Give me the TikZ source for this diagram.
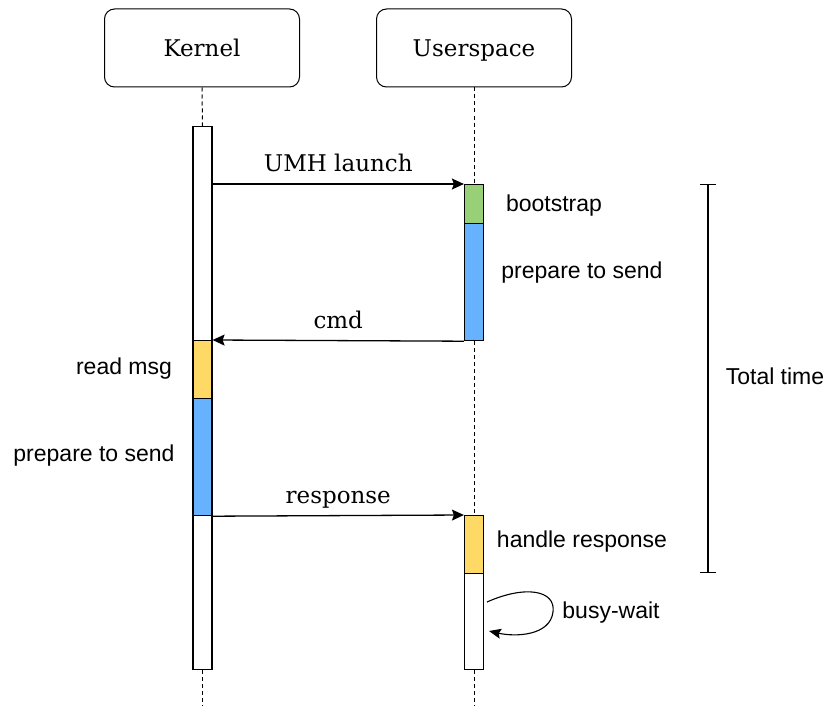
\documentclass[tikz,border=0pt]{standalone}
\usepackage{fontspec}
\setmainfont{DejaVu Serif}
\setsansfont{Liberation Sans}
\usetikzlibrary{arrows.meta}
\definecolor{cgreen}{HTML}{97D077}
\definecolor{cblue}{HTML}{66B2FF}
\definecolor{cyellow}{HTML}{FFD966}
\begin{document}
\begin{tikzpicture}[x=1pt,y=-1pt,
 actor/.style={draw, rounded corners=10pt, line width=1pt, minimum width=195pt, minimum height=78pt, text height=17pt, text depth=0pt, font=\fontsize{23}{26}\selectfont},
 act/.style={draw, line width=1.2pt, minimum width=19pt, inner sep=0pt, anchor=north, fill=white},
 life/.style={dash pattern=on 4pt off 3pt, line width=1pt},
 msg/.style={line width=1.3pt, -{Stealth[length=12pt,width=11pt,inset=2pt]}},
 lbl/.style={font=\sffamily\fontsize{23}{26}\selectfont, text height=0.72em, text depth=0.21em, inner sep=0pt},
 mlbl/.style={font=\fontsize{23}{26}\selectfont, text height=0.75em, text depth=0.22em, inner sep=0pt, midway, yshift=15pt}]
\useasboundingbox (0,0) rectangle (826,706);
\node[actor] (kbox) at (202,48) {Kernel};
\node[actor] (ubox) at (474,48) {Userspace};
% activation bars
\node[act, minimum height=543pt] (kbar) at (202.5,126) {};
\node[act, minimum height=58pt, fill=cyellow] (kyellow) at (202.5,340) {};
\node[act, minimum height=117pt, fill=cblue] (kblue) at (202.5,398) {};
\node[act, minimum height=156pt] (ubar) at (474,184) {};
\node[act, minimum height=39pt, fill=cgreen] (ugreen) at (474,184) {};
\node[act, minimum height=117pt, fill=cblue] (ublue) at (474,223) {};
\node[act, minimum height=154pt] (ubarb) at (474,515) {};
\node[act, minimum height=58pt, fill=cyellow] (uyellow) at (474,515) {};
% lifelines
\coordinate (kend) at (202.5,706);
\coordinate (uend) at (474,706);
\draw[life] (kbox.south) -- (kbar.north);
\draw[life] (kbar.south) -- (kend);
\draw[life] (ubox.south) -- (ugreen.north);
\draw[life] (ublue.south) -- (uyellow.north);
\draw[life] (ubarb.south) -- (uend);
% messages
\draw[msg] (kbar.east |- ugreen.north west) -- node[mlbl]{UMH launch} (ugreen.north west);
\draw[msg] (ublue.south west) -- node[mlbl]{cmd} (kyellow.north east);
\draw[msg] (kblue.south east) -- node[mlbl]{response} (uyellow.north west);
% labels
\node[lbl] (tboot) at (554,209) {bootstrap};
\node[lbl] (tprep1) at (582,276) {prepare to send};
\node[lbl] (tread) at (124,371.5) {read msg};
\node[lbl] (tprep2) at (94,459) {prepare to send};
\node[lbl] (thandle) at (582,544.5) {handle response};
\node[lbl] (tbusy) at (611,616) {busy-wait};
\node[lbl] (ttotal) at (775,382) {Total time};
% total time bracket
\coordinate (tt1) at (708,184);
\coordinate (tt2) at (708,573);
\draw[line width=1.2pt, {Bar[width=16pt]}-{Bar[width=16pt]}] (tt1) -- (tt2);
% busy-wait loop
\coordinate (bw1) at (487,602);
\coordinate (bw2) at (489,631);
\draw[line width=1.1pt, -{Stealth[length=12pt,width=10pt,inset=2pt]}] (bw1) .. controls (525,585) and (556,590) .. (553,612) .. controls (550,636) and (515,637) .. (bw2);
\end{tikzpicture}
\end{document}
